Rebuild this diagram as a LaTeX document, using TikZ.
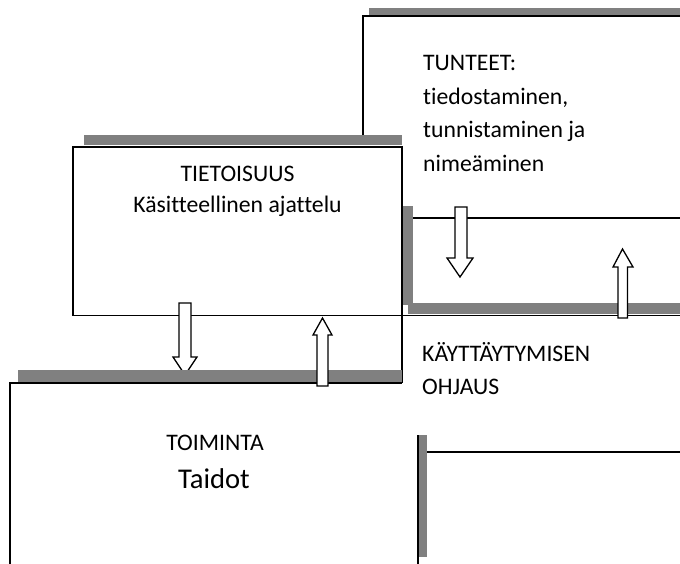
\documentclass[tikz,border=0pt]{standalone}
\usepackage{fontspec}
\setmainfont{Carlito}[Ligatures={NoCommon}]
\begin{document}
\begin{tikzpicture}[x=1pt,y=-1pt,
  graybar/.style={fill=black!50,draw=none},
  thinline/.style={draw=black,line width=1.3pt},
  thickline/.style={draw=black,line width=2pt},
  blockarrow/.style={draw=black,fill=white,line width=1.3pt,line join=miter},
  txt/.style={inner sep=0pt,font=\fontsize{23.7}{28}\selectfont},
  bigtxt/.style={inner sep=0pt,font=\fontsize{28.6}{34}\selectfont}]
\useasboundingbox[fill=white] (0,0) rectangle (680,564);
% TUNTEET box
\fill[graybar] (369,8) rectangle (680,15);
\draw[thickline] (363,135) -- (363,16) -- (680,16);
% middle right box
\fill[graybar] (403,206) rectangle (413,305);
\fill[graybar] (408,303) rectangle (680,314);
\draw[thinline] (413,218) -- (680,218);
% TIETOISUUS box
\fill[graybar] (84,135) rectangle (402,145.5);
\draw[thinline,fill=white] (73,147) rectangle (402,315.5);
\draw[thinline] (402,315.5) -- (680,315.5);
\draw[thinline] (402,315) -- (402,383);
% down arrow 1
\draw[blockarrow] (179,303) -- (191,303) -- (191,357) -- (197,357) -- (185,375) -- (173,357) -- (179,357) -- cycle;
% TOIMINTA box
\fill[graybar] (18,370) rectangle (402,382);
\draw[thickline] (10,564) -- (10,383) -- (402,383);
% up arrow 1
\draw[blockarrow] (322.5,318) -- (332,335) -- (328,335) -- (328,386) -- (317,386) -- (317,335) -- (313,335) -- cycle;
% down arrow 2
\draw[blockarrow] (455,207) -- (467,207) -- (467,258) -- (473,258) -- (460,277) -- (447,258) -- (455,258) -- cycle;
% up arrow 2
\draw[blockarrow] (622.5,249) -- (633,267) -- (627.5,267) -- (627.5,318) -- (618,318) -- (618,267) -- (613,267) -- cycle;
% bottom right box
\fill[graybar] (419,435) rectangle (427,557);
\draw[thickline] (418,435) -- (418,564);
\draw[thinline] (427,452) -- (680,452);
% texts
\node[txt,anchor=base west] (t1) at (423,71) {TUNTEET:};
\node[txt,anchor=base west] (t2) at (423,104.5) {tiedostaminen,};
\node[txt,anchor=base west] (t3) at (423,138) {tunnistaminen ja};
\node[txt,anchor=base west] (t4) at (423,171.5) {nimeäminen};
\node[txt,anchor=base] (k1) at (237.5,182) {TIETOISUUS};
\node[txt,anchor=base] (k2) at (237.5,213) {Käsitteellinen ajattelu};
\node[txt,anchor=base] (a1) at (215,450) {TOIMINTA};
\node[bigtxt,anchor=base] (a2) at (214,488) {Taidot};
\node[txt,anchor=base west] (o1) at (422,361) {KÄYTTÄYTYMISEN};
\node[txt,anchor=base west] (o2) at (422,394) {OHJAUS};
\end{tikzpicture}
\end{document}
